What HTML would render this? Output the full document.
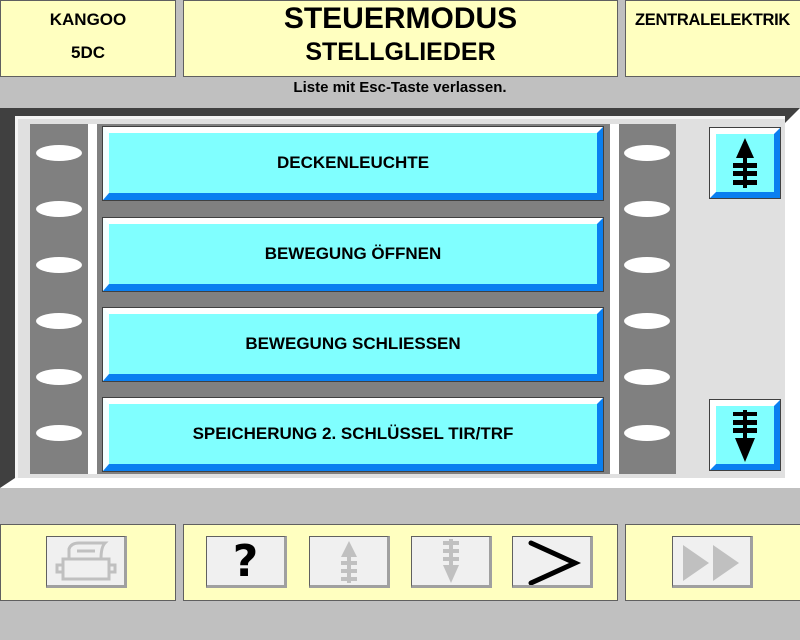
<!DOCTYPE html>
<html><head><meta charset="utf-8"><style>
*{margin:0;padding:0;box-sizing:border-box}
body{width:800px;height:640px;background:#c0c0c0;position:relative;overflow:hidden;font-family:"Liberation Sans",Arial,sans-serif;font-weight:bold;color:#000}
.a{position:absolute}
.y{background:#ffffc0;border:1px solid #606060}
.item{position:absolute;left:103px;width:500px;height:73px;background:#80ffff;border-top:6px solid #fff;border-left:6px solid #f4ffff;border-bottom:7px solid #0a7ff0;border-right:6px solid #0a7ff0;outline:1px solid #404040;display:flex;align-items:center;justify-content:center;font-size:17px}
.ov{position:absolute;width:46px;height:16px;background:#fff;border-radius:50%}
.btn{position:absolute;top:536px;width:81px;height:52px;background:#f0f0f0;border:1px solid #606060;border-right:3px solid #a0a0a0;border-bottom:3px solid #a0a0a0}
.sb{position:absolute;left:710px;width:70px;height:70px;background:#80ffff;border-top:6px solid #fff;border-left:6px solid #fff;border-bottom:6px solid #0a7ff0;border-right:6px solid #0a7ff0;outline:1px solid #404040}
</style></head><body>
<div class="a y" style="left:0;top:0;width:176px;height:77px"></div>
<div class="a" style="left:0;top:10px;width:176px;text-align:center;font-size:17px">KANGOO</div>
<div class="a" style="left:0;top:43px;width:176px;text-align:center;font-size:17px">5DC</div>
<div class="a y" style="left:183px;top:0;width:435px;height:77px"></div>
<div class="a" style="left:183px;top:2px;width:435px;text-align:center;font-size:30px">STEUERMODUS</div>
<div class="a" style="left:183px;top:38px;width:435px;text-align:center;font-size:25px">STELLGLIEDER</div>
<div class="a y" style="left:625px;top:0;width:176px;height:77px"></div>
<div class="a" style="left:625px;top:11px;width:175px;text-align:center;font-size:16.5px;letter-spacing:-0.3px">ZENTRALELEKTRIK</div>
<div class="a" style="left:0;top:79px;width:800px;text-align:center;font-size:15px">Liste mit Esc-Taste verlassen.</div>

<div class="a" style="left:0;top:108px;width:800px;height:380px;background:#404040"></div>
<div class="a" style="left:785px;top:108px;width:15px;height:380px;background:#fff;clip-path:polygon(100% 0,100% 100%,0 100%,0 15px)"></div>
<div class="a" style="left:0;top:478px;width:800px;height:10px;background:#fff;clip-path:polygon(15px 0,100% 0,100% 100%,0 100%)"></div>
<div class="a" style="left:15px;top:116px;width:770px;height:362px;background:#e0e0e0;border-left:3px solid #f4f4f4;border-top:3px solid #f4f4f4"></div>

<div class="a" style="left:30px;top:124px;width:58px;height:350px;background:#808080"></div>
<div class="a" style="left:88px;top:124px;width:9px;height:350px;background:#fff"></div>
<div class="a" style="left:97px;top:124px;width:513px;height:350px;background:#808080"></div>
<div class="a" style="left:610px;top:124px;width:9px;height:350px;background:#fff"></div>
<div class="a" style="left:619px;top:124px;width:57px;height:350px;background:#808080"></div>

<div class="ov" style="left:36px;top:145px"></div><div class="ov" style="left:36px;top:201px"></div>
<div class="ov" style="left:36px;top:257px"></div><div class="ov" style="left:36px;top:313px"></div>
<div class="ov" style="left:36px;top:369px"></div><div class="ov" style="left:36px;top:425px"></div>
<div class="ov" style="left:624px;top:145px"></div><div class="ov" style="left:624px;top:201px"></div>
<div class="ov" style="left:624px;top:257px"></div><div class="ov" style="left:624px;top:313px"></div>
<div class="ov" style="left:624px;top:369px"></div><div class="ov" style="left:624px;top:425px"></div>

<div class="item" style="top:127px">DECKENLEUCHTE</div>
<div class="item" style="top:218px">BEWEGUNG ÖFFNEN</div>
<div class="item" style="top:308px">BEWEGUNG SCHLIESSEN</div>
<div class="item" style="top:398px">SPEICHERUNG 2. SCHLÜSSEL TIR/TRF</div>

<div class="sb" style="top:128px"><svg width="58" height="58" viewBox="0 0 58 58"><polygon points="29,4 20,24 38,24" fill="#000"/><rect x="27" y="20" width="4" height="34" fill="#000"/><rect x="17" y="29" width="24" height="5" fill="#000"/><rect x="17" y="37" width="24" height="5" fill="#000"/><rect x="17" y="46" width="24" height="5" fill="#000"/></svg></div>
<div class="sb" style="top:400px"><svg width="58" height="58" viewBox="0 0 58 58"><rect x="17" y="6" width="24" height="4" fill="#000"/><rect x="17" y="14" width="24" height="5" fill="#000"/><rect x="17" y="22" width="24" height="5" fill="#000"/><rect x="27" y="4" width="4" height="34" fill="#000"/><polygon points="29,56 19,32 39,32" fill="#000"/></svg></div>

<div class="a y" style="left:0;top:524px;width:176px;height:77px"></div>
<div class="a y" style="left:183px;top:524px;width:435px;height:77px"></div>
<div class="a y" style="left:625px;top:524px;width:176px;height:77px"></div>

<div class="btn" style="left:46px"><svg width="78" height="48" viewBox="0 0 78 48"><g fill="none" stroke="#c0c0c0" stroke-width="3"><path d="M22 22 V12 Q24 6 32 6 H58 Q54 10 54 22"/><line x1="30" y1="14" x2="48" y2="14"/><rect x="16" y="22" width="46" height="20"/><rect x="10" y="28" width="6" height="7"/><rect x="62" y="28" width="6" height="7"/></g></svg></div>
<div class="btn" style="left:206px"><div style="font-size:44px;text-align:center;line-height:50px;font-family:'DejaVu Sans',sans-serif">?</div></div>
<div class="btn" style="left:309px"><svg width="78" height="48" viewBox="0 0 78 48"><polygon points="39,4 31,20 47,20" fill="#c0c0c0"/><rect x="37" y="18" width="4" height="28" fill="#c0c0c0"/><rect x="31" y="24" width="16" height="4" fill="#c0c0c0"/><rect x="31" y="32" width="16" height="4" fill="#c0c0c0"/><rect x="31" y="40" width="16" height="4" fill="#c0c0c0"/></svg></div>
<div class="btn" style="left:411px"><svg width="78" height="48" viewBox="0 0 78 48"><rect x="31" y="4" width="16" height="4" fill="#c0c0c0"/><rect x="31" y="12" width="16" height="4" fill="#c0c0c0"/><rect x="31" y="20" width="16" height="4" fill="#c0c0c0"/><rect x="37" y="2" width="4" height="28" fill="#c0c0c0"/><polygon points="39,46 31,28 47,28" fill="#c0c0c0"/></svg></div>
<div class="btn" style="left:512px"><svg width="78" height="48" viewBox="0 0 78 48"><polyline points="18,6 62,26 18,46" fill="none" stroke="#000" stroke-width="5" stroke-linecap="round" stroke-linejoin="miter"/></svg></div>
<div class="btn" style="left:672px"><svg width="78" height="48" viewBox="0 0 78 48"><polygon points="10,8 36,26 10,44" fill="#c0c0c0"/><polygon points="40,8 66,26 40,44" fill="#c0c0c0"/></svg></div>
</body></html>
